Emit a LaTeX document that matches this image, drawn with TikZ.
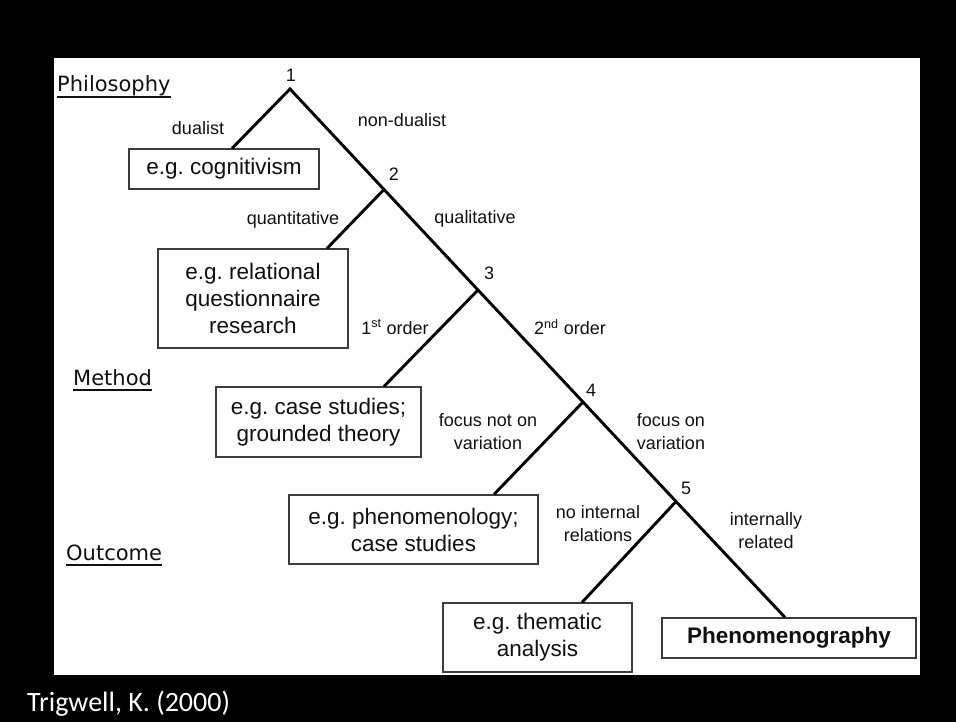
\documentclass[tikz,border=0pt]{standalone}
\usepackage{fontspec}
\setmainfont{Liberation Sans}
\newfontfamily\headfont{DejaVu Sans}
\newfontfamily\creditfont{Carlito}
\definecolor{boxgray}{HTML}{3C3C3C}
\definecolor{inkblack}{HTML}{111111}
\frenchspacing
\begin{document}
\begin{tikzpicture}[x=1pt,y=-1pt,
  boxnode/.style={draw=boxgray, line width=1.2pt, fill=white, inner sep=0pt,
    align=center, text=inkblack, font=\fontsize{22.5}{27}\selectfont},
  lbl/.style={inner sep=0pt, align=center, text=inkblack,
    font=\fontsize{18}{23}\selectfont},
  num/.style={inner sep=0pt, text=inkblack, font=\fontsize{18}{22}\selectfont},
  heading/.style={inner sep=0pt, anchor=base west, text=inkblack,
    font=\headfont\fontsize{21}{25}\selectfont},
  headrule/.style={line width=1.8pt, draw=inkblack},
  limb/.style={line width=2.9pt, draw=black, line join=miter}]

% slide background and white panel
\fill[black] (0,0) rectangle (956,722);
\useasboundingbox (0,0) rectangle (956,722);
\fill[white] (54,58) rectangle (920,675);

% decision points along the main branch
\coordinate (n1) at (290,89);
\coordinate (n2) at (384,189.5);
\coordinate (n3) at (478,290);
\coordinate (n4) at (583,402);
\coordinate (n5) at (676,501.5);

% outcome boxes
\node[boxnode, minimum width=190pt, minimum height=40pt] (cog) at (224,169) {e.g. cognitivism};
\node[boxnode, minimum width=190pt, minimum height=99pt] (rel) at (253,298.5) {e.g. relational\\questionnaire\\research};
\node[boxnode, minimum width=205pt, minimum height=70pt] (case) at (318.5,422) {e.g. case studies;\\grounded theory};
\node[boxnode, minimum width=249pt, minimum height=69pt] (phen) at (413.5,529.5) {e.g. phenomenology;\\case studies};
\node[boxnode, minimum width=189pt, minimum height=69pt] (them) at (537.5,637.5) {e.g. thematic\\analysis};
\node[boxnode, minimum width=254pt, minimum height=40pt] (pgraphy) at (789,638) {\bfseries Phenomenography};

% tree branches
\draw[limb] ([xshift=8pt]cog.north) -- (n1) -- (n2) -- (n3) -- (n4) -- (n5) -- ([xshift=-4pt]pgraphy.north);
\draw[limb] (n2) -- ([xshift=74pt]rel.north);
\draw[limb] (n3) -- ([xshift=65.5pt]case.north);
\draw[limb] (n4) -- ([xshift=80.5pt]phen.north);
\draw[limb] (n5) -- ([xshift=44.5pt]them.north);

% decision numbers
\node[num] (k1) at (291,75) {1};
\node[num] (k2) at (394,174) {2};
\node[num] (k3) at (489,273) {3};
\node[num] (k4) at (591,390) {4};
\node[num] (k5) at (686,488) {5};

% branch labels
\node[lbl] (l1a) at (198,128) {dualist};
\node[lbl] (l1b) at (402,120) {non-dualist};
\node[lbl] (l2a) at (293,220) {quantitative};
\node[lbl] (l2b) at (475,219) {qualitative};
\node[lbl] (l3a) at (395,327) {1\textsuperscript{st} order};
\node[lbl] (l3b) at (570,327) {2\textsuperscript{nd} order};
\node[lbl] (l4a) at (488,431.5) {focus not on\\variation};
\node[lbl] (l4b) at (671,431.5) {focus on\\variation};
\node[lbl] (l5a) at (598,523.5) {no internal\\relations};
\node[lbl] (l5b) at (766,531) {internally\\related};

% level headings
\node[heading] (phil) at (57,92) {Philosophy};
\node[heading] (meth) at (73,385) {Method};
\node[heading] (outc) at (66,560) {Outcome};
\draw[headrule] ([yshift=-5pt]phil.base west) -- ([yshift=-5pt]phil.base east);
\draw[headrule] ([yshift=-5pt]meth.base west) -- ([yshift=-5pt]meth.base east);
\draw[headrule] ([yshift=-5pt]outc.base west) -- ([yshift=-5pt]outc.base east);

% source credit
\node[inner sep=0pt, anchor=base west, text=white,
  font=\creditfont\fontsize{28}{32}\selectfont] (credit) at (27,711) {Trigwell, K. (2000)};
\end{tikzpicture}
\end{document}
